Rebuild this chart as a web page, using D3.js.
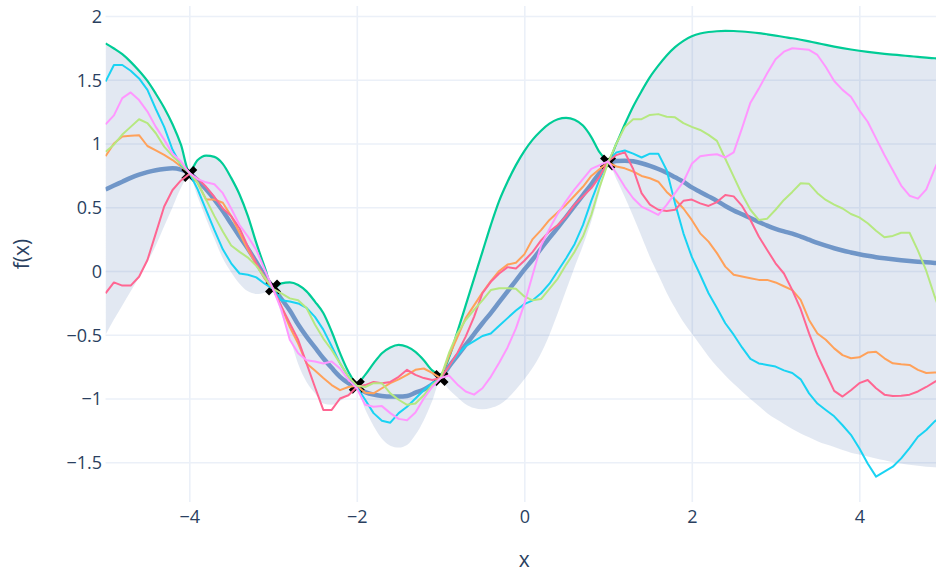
<!DOCTYPE html>
<html>
<head>
<meta charset="utf-8">
<script src="https://cdn.jsdelivr.net/npm/d3@7"></script>
<style>
  html, body { margin: 0; padding: 0; background: #fff; }
  svg { display: block; font-family: "Open Sans", "Noto Sans", sans-serif; }
</style>
</head>
<body>
<svg id="chart" width="936" height="571"></svg>
<script>
// Gaussian-process posterior on a 0.1 grid from -5 to 5
const xGrid = d3.range(101).map(i => Math.round((-5 + i * 0.1) * 10) / 10);

// Observed points
const obsX = [-4, -3, -2, -1, 1];
const obsY = [0.76, -0.13, -0.90, -0.84, 0.85];

// Posterior mean
const meanY = [
  0.64, 0.67, 0.70, 0.73, 0.755, 0.775, 0.79, 0.80, 0.805, 0.795, 0.77, 0.71, 0.64, 0.56, 0.47, 0.37, 0.27, 0.175, 0.07, -0.04, -0.13,
  -0.22, -0.31, -0.42, -0.515, -0.60, -0.685, -0.76, -0.83, -0.88, -0.915, -0.95, -0.97, -0.98, -0.985, -0.985, -0.98, -0.955, -0.93, -0.89, -0.845,
  -0.75, -0.665, -0.58, -0.495, -0.41, -0.33, -0.245, -0.16, -0.075, 0.01, 0.09, 0.175, 0.26, 0.34, 0.425, 0.51, 0.595, 0.68, 0.77, 0.845,
  0.862, 0.865, 0.86, 0.845, 0.825, 0.80, 0.77, 0.735, 0.70, 0.655, 0.62, 0.585, 0.55, 0.51, 0.475, 0.445, 0.415, 0.385, 0.355, 0.33,
  0.31, 0.293, 0.27, 0.245, 0.22, 0.198, 0.178, 0.16, 0.145, 0.131, 0.119, 0.108, 0.099, 0.091, 0.084, 0.078, 0.073, 0.068, 0.063, 0.058
];

// Upper and lower edges of the confidence band
const upperY = [
  1.785, 1.745, 1.70, 1.64, 1.57, 1.49, 1.39, 1.28, 1.15, 0.99, 0.78, 0.87, 0.905, 0.895, 0.84, 0.73, 0.60, 0.43, 0.22, 0.03, -0.14,
  -0.097, -0.09, -0.11, -0.16, -0.24, -0.33, -0.475, -0.645, -0.79, -0.88, -0.815, -0.725, -0.645, -0.60, -0.58, -0.595, -0.635, -0.70, -0.78, -0.81,
  -0.68, -0.48, -0.27, -0.06, 0.15, 0.36, 0.55, 0.70, 0.83, 0.94, 1.03, 1.10, 1.155, 1.19, 1.20, 1.185, 1.14, 1.05, 0.93, 0.87,
  1.0, 1.15, 1.29, 1.41, 1.52, 1.61, 1.69, 1.755, 1.805, 1.84, 1.862, 1.874, 1.88, 1.883, 1.882, 1.878, 1.872, 1.865, 1.856, 1.846,
  1.835, 1.825, 1.813, 1.80, 1.787, 1.773, 1.76, 1.748, 1.737, 1.727, 1.718, 1.71, 1.703, 1.697, 1.691, 1.685, 1.679, 1.673, 1.668, 1.663
];
const lowerY = [
  -0.50, -0.38, -0.27, -0.16, -0.05, 0.07, 0.20, 0.35, 0.50, 0.65, 0.74, 0.58, 0.41, 0.25, 0.10, -0.01, -0.10, -0.16, -0.18, -0.17, -0.15,
  -0.34, -0.52, -0.73, -0.87, -0.96, -1.04, -1.05, -1.02, -0.97, -0.93, -1.085, -1.215, -1.315, -1.37, -1.385, -1.365, -1.285, -1.17, -1.02, -0.86,
  -0.93, -0.99, -1.045, -1.075, -1.085, -1.075, -1.05, -1.0, -0.93, -0.85, -0.76, -0.645, -0.50, -0.33, -0.15, 0.03, 0.20, 0.39, 0.62, 0.84,
  0.72, 0.58, 0.43, 0.27, 0.11, -0.03, -0.17, -0.29, -0.40, -0.49, -0.58, -0.67, -0.75, -0.82, -0.885, -0.945, -1.005, -1.06, -1.115, -1.16,
  -1.20, -1.24, -1.275, -1.305, -1.335, -1.36, -1.38, -1.405, -1.425, -1.44, -1.456, -1.47, -1.485, -1.50, -1.51, -1.52, -1.528, -1.535, -1.54, -1.545
];

// Posterior draws
const sample1 = [
  0.90, 1.00, 1.055, 1.06, 1.065, 0.98, 0.945, 0.91, 0.87, 0.82, 0.77, 0.69, 0.56, 0.56, 0.535, 0.43, 0.30, 0.165, 0.05, -0.06, -0.14,
  -0.28, -0.44, -0.57, -0.725, -0.78, -0.84, -0.895, -0.935, -0.91, -0.90, -0.955, -0.96, -0.92, -0.88, -0.85, -0.815, -0.775, -0.765, -0.80, -0.84,
  -0.67, -0.52, -0.37, -0.27, -0.17, -0.08, 0.0, 0.05, 0.065, 0.13, 0.25, 0.32, 0.40, 0.46, 0.52, 0.59, 0.66, 0.745, 0.80, 0.85,
  0.82, 0.805, 0.78, 0.745, 0.727, 0.70, 0.62, 0.56, 0.49, 0.40, 0.295, 0.23, 0.14, 0.034, -0.03, -0.044, -0.057, -0.07, -0.07, -0.09,
  -0.12, -0.15, -0.227, -0.384, -0.49, -0.54, -0.607, -0.66, -0.685, -0.677, -0.64, -0.633, -0.685, -0.724, -0.732, -0.737, -0.776, -0.80, -0.797, -0.797
];
const sample2 = [
  1.485, 1.615, 1.615, 1.57, 1.51, 1.42, 1.27, 1.13, 0.95, 0.83, 0.77, 0.64, 0.48, 0.32, 0.17, 0.06, -0.02, -0.03, -0.05, -0.10, -0.14,
  -0.23, -0.24, -0.255, -0.29, -0.36, -0.46, -0.59, -0.725, -0.83, -0.91, -1.01, -1.115, -1.175, -1.19, -1.115, -1.065, -1.0, -0.935, -0.88, -0.84,
  -0.75, -0.66, -0.59, -0.55, -0.51, -0.49, -0.43, -0.37, -0.31, -0.26, -0.23, -0.175, -0.10, 0.0, 0.10, 0.21, 0.36, 0.55, 0.72, 0.86,
  0.93, 0.945, 0.92, 0.89, 0.92, 0.92, 0.79, 0.53, 0.295, 0.11, -0.03, -0.175, -0.29, -0.41, -0.50, -0.60, -0.69, -0.725, -0.737, -0.75,
  -0.78, -0.80, -0.85, -0.96, -1.04, -1.09, -1.14, -1.21, -1.285, -1.39, -1.51, -1.613, -1.574, -1.535, -1.47, -1.39, -1.30, -1.247, -1.18, -1.13
];
const sample3 = [
  -0.175, -0.09, -0.115, -0.115, -0.045, 0.086, 0.295, 0.505, 0.635, 0.71, 0.76, 0.725, 0.66, 0.58, 0.49, 0.43, 0.335, 0.19, 0.06, -0.045, -0.14,
  -0.28, -0.41, -0.54, -0.725, -0.91, -1.09, -1.09, -1.0, -0.975, -0.91, -0.895, -0.87, -0.88, -0.87, -0.83, -0.775, -0.815, -0.84, -0.855, -0.84,
  -0.75, -0.645, -0.515, -0.36, -0.175, -0.085, -0.02, 0.03, 0.02, 0.08, 0.15, 0.24, 0.31, 0.36, 0.43, 0.52, 0.585, 0.65, 0.74, 0.86,
  0.91, 0.93, 0.80, 0.61, 0.52, 0.48, 0.47, 0.48, 0.55, 0.56, 0.53, 0.51, 0.54, 0.595, 0.585, 0.51, 0.40, 0.27, 0.165, 0.06,
  -0.02, -0.15, -0.30, -0.49, -0.66, -0.80, -0.94, -0.985, -0.935, -0.88, -0.855, -0.92, -0.97, -0.98, -0.978, -0.97, -0.945, -0.91, -0.87, -0.83
];
const sample4 = [
  0.935, 0.99, 1.07, 1.13, 1.19, 1.16, 1.08, 0.975, 0.90, 0.84, 0.77, 0.69, 0.56, 0.43, 0.31, 0.20, 0.15, 0.105, 0.04, -0.05, -0.14,
  -0.175, -0.215, -0.23, -0.29, -0.42, -0.53, -0.62, -0.725, -0.83, -0.90, -0.91, -0.88, -0.88, -0.96, -1.01, -1.05, -1.04, -0.975, -0.895, -0.84,
  -0.645, -0.49, -0.385, -0.305, -0.23, -0.15, -0.135, -0.135, -0.14, -0.20, -0.23, -0.22, -0.14, -0.06, 0.05, 0.15, 0.27, 0.44, 0.66, 0.85,
  1.0, 1.13, 1.19, 1.19, 1.224, 1.23, 1.21, 1.205, 1.16, 1.13, 1.106, 1.067, 1.02, 0.88, 0.74, 0.60, 0.48, 0.40, 0.41, 0.48,
  0.557, 0.62, 0.688, 0.683, 0.61, 0.557, 0.52, 0.49, 0.447, 0.42, 0.374, 0.316, 0.264, 0.275, 0.30, 0.30, 0.16, 0.0, -0.20, -0.38
];
const sample5 = [
  1.15, 1.22, 1.355, 1.40, 1.34, 1.25, 1.13, 1.03, 0.92, 0.86, 0.77, 0.72, 0.695, 0.68, 0.61, 0.49, 0.36, 0.27, 0.165, 0.01, -0.14,
  -0.305, -0.54, -0.645, -0.70, -0.71, -0.725, -0.71, -0.765, -0.855, -0.92, -1.05, -1.065, -1.06, -1.115, -1.16, -1.17, -1.11, -1.0, -0.91, -0.84,
  -0.82, -0.89, -0.945, -0.97, -0.92, -0.83, -0.72, -0.60, -0.45, -0.26, -0.03, 0.20, 0.33, 0.45, 0.55, 0.64, 0.72, 0.80, 0.83, 0.86,
  0.766, 0.66, 0.57, 0.505, 0.473, 0.44, 0.518, 0.61, 0.70, 0.84, 0.90, 0.91, 0.915, 0.89, 0.93, 1.12, 1.32, 1.43, 1.55, 1.66,
  1.72, 1.747, 1.74, 1.734, 1.694, 1.60, 1.49, 1.42, 1.367, 1.26, 1.17, 1.04, 0.91, 0.79, 0.67, 0.59, 0.567, 0.64, 0.80, 0.95
];
const samples = [sample1, sample2, sample3, sample4, sample5];
const sampleColors = ["#FFA15A", "#19D3F3", "#FF6692", "#B6E880", "#FF97FF"];

// Axis ticks
const xTicks = [-4, -2, 0, 2, 4];
const yTicks = [-1.5, -1, -0.5, 0, 0.5, 1, 1.5, 2];

const svg = d3.select("#chart");
const W = 936, H = 571;
const plot = { left: 105.55, right: 943.05, top: 6, bottom: 502 };

const x = d3.scaleLinear().domain([-5, 5]).range([plot.left, plot.right]);
const y = d3.scaleLinear().domain([-1.812, 2.078]).range([plot.bottom, plot.top]);

const minus = s => String(s).replace("-", "\u2212");
const gridColor = "#ebf0f8";
const textColor = "#2a3f5f";

svg.append("rect").attr("width", W).attr("height", H).attr("fill", "#fff");

// Grid lines
svg.append("g")
  .attr("transform", `translate(0,${plot.bottom})`)
  .call(d3.axisBottom(x).tickValues(xTicks).tickSize(-(plot.bottom - plot.top)).tickFormat(""))
  .call(g => g.select(".domain").remove())
  .call(g => g.selectAll("line").attr("stroke", gridColor).attr("stroke-width", 1.6));
svg.append("g")
  .attr("transform", `translate(${plot.left},0)`)
  .call(d3.axisLeft(y).tickValues(yTicks).tickSize(-(plot.right - plot.left)).tickFormat(""))
  .call(g => g.select(".domain").remove())
  .call(g => g.selectAll("line").attr("stroke", gridColor).attr("stroke-width", 1.6));

svg.append("clipPath").attr("id", "plot-clip")
  .append("rect").attr("x", plot.left).attr("y", plot.top)
  .attr("width", plot.right - plot.left).attr("height", plot.bottom - plot.top);

const layer = svg.append("g").attr("clip-path", "url(#plot-clip)");

// Confidence band
const band = d3.area()
  .x((d, i) => x(xGrid[i]))
  .y0((d, i) => y(lowerY[i]))
  .y1((d, i) => y(upperY[i]))
  .curve(d3.curveMonotoneX);
layer.append("path").datum(xGrid).attr("d", band)
  .attr("fill", "rgba(60,100,170,0.15)");

const smoothLine = arr => d3.line()
  .x((d, i) => x(xGrid[i]))
  .y(d => y(d))
  .curve(d3.curveMonotoneX)(arr);
const rawLine = arr => d3.line()
  .x((d, i) => x(xGrid[i]))
  .y(d => y(d))(arr);

// Upper edge drawn as a line
layer.append("path").attr("d", smoothLine(upperY))
  .attr("fill", "none").attr("stroke", "#00CC96").attr("stroke-width", 2.2)
  .attr("stroke-linejoin", "round");

// Mean
layer.append("path").attr("d", smoothLine(meanY))
  .attr("fill", "none").attr("stroke", "#7096c8").attr("stroke-width", 4.5)
  .attr("stroke-linejoin", "round");

// Observations as thick X markers
const rx = 4.0;
const xMarker = (() => {
  const ne = `l${rx},${rx}`, se = `l${rx},-${rx}`, sw = `l-${rx},-${rx}`, nw = `l-${rx},${rx}`;
  return `M0,${rx}${ne}${se}${sw}${se}${sw}${nw}${sw}${nw}${ne}${nw}${ne}Z`;
})();
layer.append("g").selectAll("path")
  .data(obsX.map((d, i) => [d, obsY[i]]))
  .join("path")
  .attr("d", xMarker)
  .attr("transform", d => `translate(${x(d[0])},${y(d[1])})`)
  .attr("fill", "#000");

// Posterior draws
layer.append("g").selectAll("path")
  .data(samples)
  .join("path")
  .attr("d", d => rawLine(d))
  .attr("fill", "none")
  .attr("stroke", (d, i) => sampleColors[i])
  .attr("stroke-width", 2)
  .attr("stroke-linejoin", "round");

// Tick labels
svg.append("g")
  .attr("transform", `translate(0,${plot.bottom})`)
  .call(d3.axisBottom(x).tickValues(xTicks).tickSize(0).tickPadding(8.7).tickFormat(minus))
  .call(g => g.select(".domain").remove())
  .call(g => g.selectAll("text").attr("fill", textColor).attr("font-size", 18)
    .attr("font-family", '"Open Sans", sans-serif'));
svg.append("g")
  .attr("transform", `translate(${plot.left},0)`)
  .call(d3.axisLeft(y).tickValues(yTicks).tickSize(0).tickPadding(3.5).tickFormat(minus))
  .call(g => g.select(".domain").remove())
  .call(g => g.selectAll("text").attr("fill", textColor).attr("font-size", 18)
    .attr("dy", "0.36em").attr("font-family", '"Open Sans", sans-serif'));

// Axis titles
svg.append("text")
  .attr("x", x(0)).attr("y", 566.5)
  .attr("text-anchor", "middle")
  .attr("fill", textColor).attr("font-size", 21)
  .text("x");
svg.append("text")
  .attr("transform", "translate(29,254) rotate(-90)")
  .attr("text-anchor", "middle")
  .attr("fill", textColor).attr("font-size", 21)
  .text("f(x)");
</script>
</body>
</html>
